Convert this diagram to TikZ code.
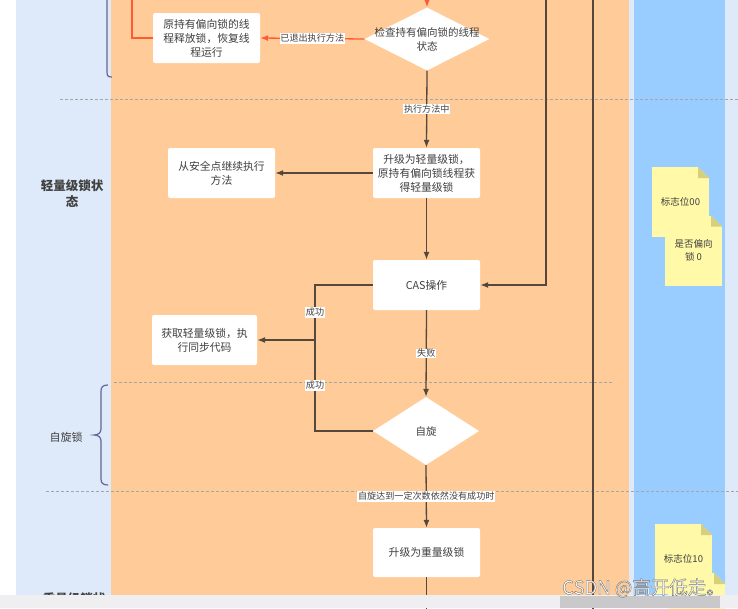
\documentclass[tikz,border=0pt]{standalone}
\usepackage{fontspec}
\setmainfont{Noto Sans CJK SC}
\usetikzlibrary{arrows.meta,shapes.geometric}
\definecolor{lane}{HTML}{DEE9FA}
\definecolor{peach}{HTML}{FFCC99}
\definecolor{sky}{HTML}{99CCFF}
\definecolor{notey}{HTML}{FFF9A8}
\definecolor{fold}{HTML}{D8CF7C}
\definecolor{ink}{HTML}{404040}
\definecolor{wire}{HTML}{55473C}
\definecolor{hot}{HTML}{FF5A36}
\definecolor{bar}{HTML}{EFEEF1}
\definecolor{barkey}{HTML}{C9C9CB}
\begin{document}
\begin{tikzpicture}[x=1pt,y=-1pt,
    box/.style={fill=white, rounded corners=2pt, minimum width=107pt, minimum height=50pt,
      align=center, text=ink, font=\fontsize{10.8}{14}\selectfont},
    dia/.style={diamond, fill=white, inner sep=0pt},
    dtxt/.style={align=center, text=ink, font=\fontsize{10.5}{14}\selectfont},
    lbl/.style={fill=white, inner sep=0.8pt, text=ink, font=\fontsize{9.1}{10}\selectfont},
    lnk/.style={draw=wire, line width=1.3pt},
    arr/.style={lnk, -{Latex[length=8pt,width=6pt]}},
    hotlnk/.style={draw=hot, line width=1.3pt},
    hotarr/.style={hotlnk, -{Latex[length=8pt,width=6pt]}},
    sep/.style={draw=gray!70, line width=0.6pt, dash pattern=on 3pt off 2pt},
    brc/.style={draw=gray!80!blue, line width=1.2pt},
    lanetxt/.style={text=ink, align=center, font=\fontsize{12.5}{16}\selectfont\bfseries},
    note/.style={fill=notey, minimum width=57pt, minimum height=70pt, inner sep=0pt,
      align=center, text=ink, font=\fontsize{9.5}{13}\selectfont,
      path picture={
        \fill[sky] ([xshift=-11pt]path picture bounding box.north east)
          -- (path picture bounding box.north east)
          -- ([yshift=-11pt]path picture bounding box.north east) -- cycle;
        \fill[fold] ([xshift=-11pt]path picture bounding box.north east)
          -- ([yshift=-11pt]path picture bounding box.north east)
          -- ([xshift=-11pt,yshift=-11pt]path picture bounding box.north east) -- cycle;}}]
  \useasboundingbox (0,0) rectangle (738,608);

  % Draw lanes
  \fill[white] (0,0) rectangle (738,608);
  \fill[lane] (16,0) rectangle (738,595);
  \fill[peach] (111,0) rectangle (629,595);
  \fill[sky] (634,0) rectangle (725,595);

  % Draw separators
  \foreach \xa/\yy/\xb in {60/99/738, 114/382/613, 46/491/738}
    \draw[sep] (\xa,\yy) -- (\xb,\yy);

  % Draw braces
  \draw[brc] (107,-2) -- (107,72) .. controls (107,76) and (108,77) .. (112,77);
  \draw[brc] (108,385) .. controls (103,385) and (101,387) .. (101,391) -- (101,429)
    .. controls (101,433) and (98,435) .. (94,435)
    .. controls (98,435) and (101,437) .. (101,441) -- (101,479)
    .. controls (101,483) and (103,485) .. (108,485);

  % Lane labels
  \node[lanetxt] (light) at (72,194) {轻量级锁状\\态};
  \node[text=ink, font=\fontsize{11}{12}\selectfont] (spinlock) at (66,437) {自旋锁};
  \node[lanetxt] (heavylane) at (74,599) {重量级锁状};

  % Steps
  \node[box] (rel) at (206.5,38) {原持有偏向锁的线\\程释放锁，恢复线\\程运行};
  \node[dia, minimum width=125pt, minimum height=63pt,
    label={[dtxt]center:{检查持有偏向锁的线程\\状态}}] (chk) at (427,39) {};
  \node[box] (up) at (426.5,173) {升级为轻量级锁，\\原持有偏向锁线程获\\得轻量级锁};
  \node[box] (safe) at (221.5,173) {从安全点继续执行\\方法};
  \node[box] (cas) at (426.5,285) {CAS操作};
  \node[box, minimum width=105pt] (get) at (204.5,340) {获取轻量级锁，执\\行同步代码};
  \node[dia, minimum width=106pt, minimum height=68pt,
    label={[dtxt]center:自旋}] (spin) at (426,431) {};
  \node[box, minimum height=49pt] (heavy) at (426.5,552.5) {升级为重量级锁};

  % Red branch
  \coordinate (hotin) at (427,-2);
  \coordinate (hotup) at (132,-2);
  \draw[hotarr] (hotin) -- (chk.north);
  \draw[hotarr] (chk.west) -- node[lbl] {已退出执行方法} (rel.east);
  \draw[hotlnk] (rel.west) -| (hotup);

  % Main flow
  \draw[arr] (chk.south) -- node[lbl] {执行方法中} (up.north);
  \draw[arr] (up.west) -- (safe.east);
  \draw[arr] (up.south) -- (cas.north);
  \draw[arr] (cas.south) -- node[lbl] {失败} (spin.north);
  \draw[arr] (spin.south) -- node[lbl] {自旋达到一定次数依然没有成功时} (heavy.north);
  \coordinate (heavyout) at (426.5,610);
  \draw[lnk] (heavy.south) -- (heavyout);
  \coordinate (hit) at (315,340);
  \draw[lnk] (cas.west) -| node[lbl, pos=0.75] {成功} (hit)
    |- node[lbl, pos=0.25] {成功} (spin.west);
  \draw[arr] (hit) -- (get.east);
  \coordinate (loopin) at (546,-2);
  \draw[arr] (loopin) |- (cas.east);
  \coordinate (railtop) at (593,-2);
  \coordinate (railbot) at (593,610);
  \draw[lnk] (railtop) -- (railbot);

  % Notes
  \node[note] (flag1) at (680.5,202) {标志位00};
  \node[note] (flag2) at (693.5,250.5) {是否偏向\\锁 0};
  \node[note] (flag3) at (683.5,559) {标志位10};
  \node[note] (flag4) at (696.5,608) {};

  % Bottom bar
  \fill[bar] (0,595) rectangle (738,608);
  \fill[barkey] (560,596) rectangle (720,608);
  \node[text=white, anchor=east, inner sep=0pt, font=\fontsize{18.5}{18}\selectfont] (mark) at (725,588)
    {\special{pdf:literal direct 2 Tr 0.4 w 0.45 G}CSDN @高开低走。\special{pdf:literal direct 0 Tr}};
\end{tikzpicture}
\end{document}
